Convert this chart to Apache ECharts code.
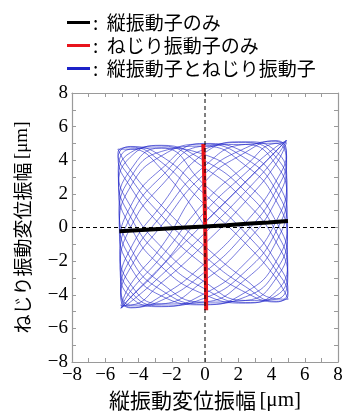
<!DOCTYPE html>
<html>
<head>
<meta charset="utf-8">
<script src="https://cdn.jsdelivr.net/npm/echarts@6/dist/echarts.min.js"></script>
<style>
  html, body { margin: 0; padding: 0; background: #fff; }
  #chart { width: 343px; height: 413px; }
</style>
</head>
<body>
<div id="chart"></div>
<script>
// Series names (legend order)
const seriesNames = ['縦振動子のみ', 'ねじり振動子のみ', '縦振動子とねじり振動子'];

// Axis titles
const xTitle = '縦振動変位振幅';
const yTitle = 'ねじり振動変位振幅';
const unitText = '[μm]';

// Axis range and tick labels
const axisMin = -8;
const axisMax = 8;
const tickLabels = [-8, -6, -4, -2, 0, 2, 4, 6, 8];

// Longitudinal vibrator only: nearly horizontal trace [x, y] in µm
const longitudinalOnly = [
  [-5.15, -0.22], [-3.8, -0.15], [-2.5, -0.08], [-1.2, 0.00], [0.0, 0.06],
  [1.3, 0.13], [2.5, 0.22], [3.8, 0.30], [4.99, 0.38]
];

// Torsional vibrator only: nearly vertical trace [x, y] in µm
const torsionalOnly = [
  [0.07, -4.92], [0.06, -3.5], [0.04, -2.0], [0.02, -0.5], [0.0, 0.6],
  [-0.03, 2.0], [-0.06, 3.5], [-0.10, 4.97]
];

// Both vibrators driven: measured orbit [x, y] in µm
const bothTrace = [
  [-0.10, 0.20], [2.43, 2.70], [4.27, 4.53], [4.90, 5.20], [4.25, 4.53], [2.41, 2.70],
  [-0.12, 0.20], [-2.63, -2.31], [-4.47, -4.14], [-5.05, -4.81], [-4.45, -4.14], [-2.61, -2.31],
  [-0.10, 0.83], [2.42, 3.22], [4.28, 4.80], [4.90, 5.16], [4.26, 4.18], [2.44, 2.14],
  [-0.11, -0.43], [-2.62, -2.83], [-4.46, -4.41], [-5.05, -4.77], [-4.48, -3.79], [-2.63, -1.75],
  [-0.08, 1.44], [2.45, 3.69], [4.28, 5.01], [4.90, 5.04], [4.26, 3.76], [2.43, 1.54],
  [-0.10, -1.04], [-2.64, -3.30], [-4.48, -4.62], [-5.06, -4.65], [-4.47, -3.37], [-2.63, -1.15],
  [-0.11, 2.60], [2.42, 4.46], [4.27, 5.17], [4.90, 4.56], [4.28, 2.77], [2.44, 0.30],
  [-0.09, -2.20], [-2.62, -4.07], [-4.46, -4.78], [-5.07, -4.17], [-4.48, -2.38], [-2.64, 0.09],
  [-0.10, 3.12], [2.44, 4.73], [4.26, 5.13], [4.91, 4.21], [4.28, 2.21], [2.43, -0.33],
  [-0.10, -2.72], [-2.63, -4.34], [-4.48, -4.74], [-5.07, -3.82], [-4.46, -1.82], [-2.62, 0.72],
  [-0.10, 3.59], [2.43, 4.94], [4.26, 5.01], [4.91, 3.79], [4.27, 1.61], [2.42, -0.94],
  [-0.10, -3.19], [-2.63, -4.55], [-4.47, -4.62], [-5.08, -3.40], [-4.46, -1.22], [-2.62, 1.33],
  [-0.12, 4.36], [2.41, 5.10], [4.27, 4.53], [4.92, 2.80], [4.28, 0.37], [2.44, -2.10],
  [-0.09, -3.96], [-2.63, -4.71], [-4.48, -4.14], [-5.10, -2.41], [-4.47, 0.02], [-2.63, 2.49],
  [-0.10, 4.63], [2.43, 5.06], [4.27, 4.18], [4.93, 2.24], [4.26, -0.26], [2.42, -2.62],
  [-0.11, -4.23], [-2.62, -4.67], [-4.49, -3.79], [-5.11, -1.85], [-4.47, 0.65], [-2.64, 3.01],
  [-0.10, 4.84], [2.43, 4.94], [4.26, 3.76], [4.93, 1.64], [4.27, -0.87], [2.43, -3.09],
  [-0.11, -4.44], [-2.64, -4.55], [-4.49, -3.37], [-5.12, -1.25], [-4.48, 1.26], [-2.63, 3.48],
  [-0.10, 5.00], [2.42, 4.46], [4.28, 2.77], [4.95, 0.40], [4.27, -2.03], [2.42, -3.86],
  [-0.10, -4.60], [-2.62, -4.07], [-4.47, -2.38], [-5.15, -0.01], [-4.49, 2.42], [-2.64, 4.25],
  [-0.11, 4.96], [2.43, 4.11], [4.27, 2.21], [4.95, -0.23], [4.28, -2.55], [2.43, -4.13],
  [-0.09, -4.56], [-2.64, -3.72], [-4.48, -1.82], [-5.16, 0.62], [-4.50, 2.94], [-2.63, 4.52],
  [-0.09, 4.84], [2.43, 3.69], [4.27, 1.61], [4.96, -0.84], [4.28, -3.02], [2.44, -4.34],
  [-0.10, -4.44], [-2.63, -3.30], [-4.48, -1.22], [-5.17, 1.23], [-4.49, 3.41], [-2.63, 4.73],
  [-0.11, 4.36], [2.42, 2.70], [4.27, 0.37], [4.97, -2.00], [4.29, -3.79], [2.43, -4.50],
  [-0.10, -3.96], [-2.64, -2.31], [-4.47, 0.02], [-5.20, 2.39], [-4.50, 4.18], [-2.64, 4.89],
  [-0.10, 4.01], [2.44, 2.14], [4.28, -0.26], [4.98, -2.52], [4.28, -4.06], [2.42, -4.46],
  [-0.09, -3.61], [-2.63, -1.75], [-4.49, 0.65], [-5.21, 2.91], [-4.49, 4.45], [-2.63, 4.85],
  [-0.10, 3.59], [2.43, 1.54], [4.28, -0.87], [4.98, -2.99], [4.28, -4.27], [2.42, -4.34],
  [-0.09, -3.19], [-2.63, -1.15], [-4.48, 1.26], [-5.22, 3.38], [-4.50, 4.66], [-2.62, 4.73],
  [-0.10, 2.60], [2.44, 0.30], [4.27, -2.03], [4.99, -3.76], [4.29, -4.43], [2.43, -3.86],
  [-0.11, -2.20], [-2.63, 0.09], [-4.49, 2.42], [-5.23, 4.15], [-4.50, 4.82], [-2.63, 4.25],
  [-0.09, 2.04], [2.43, -0.33], [4.28, -2.55], [4.99, -4.03], [4.28, -4.39], [2.42, -3.51],
  [-0.10, -1.64], [-2.62, 0.72], [-4.48, 2.94], [-5.24, 4.42], [-4.49, 4.78], [-2.64, 3.90],
  [-0.10, 1.44], [2.43, -0.94], [4.28, -3.02], [5.00, -4.27], [4.29, -4.24], [2.42, -3.09],
  [-0.10, -1.04], [-2.64, 1.33], [-4.49, 3.41], [-5.24, 4.66], [-4.49, 4.66], [-2.63, 3.48],
  [-0.10, 0.20]
];

// Zero reference lines
const zeroLineV = [[0, axisMin], [0, axisMax]];
const zeroLineH = [[axisMin, 0], [axisMax, 0]];

const frameColor = '#9a9a9a';
const serif = '"Liberation Serif", "DejaVu Serif", serif';
const cjk = '"Noto Sans CJK JP", "Noto Sans", sans-serif';

function fmtTick(v) {
  return v < 0 ? '\u2212' + (-v) : String(v);
}

function makeAxis(position, showLabels, extra) {
  return Object.assign({
    type: 'value',
    position: position,
    min: axisMin,
    max: axisMax,
    interval: 2,
    axisLine: { show: true, onZero: false, lineStyle: { color: frameColor, width: 1.2 } },
    axisTick: { show: true, inside: true, length: 4, lineStyle: { color: frameColor, width: 1 } },
    minorTick: { show: true, splitNumber: 2, length: 4, lineStyle: { color: frameColor, width: 1 } },
    splitLine: { show: false },
    minorSplitLine: { show: false },
    axisLabel: {
      show: showLabels,
      color: '#000',
      fontFamily: serif,
      fontSize: 19,
      margin: 4,
      formatter: function (v) { return tickLabels.indexOf(v) >= 0 ? fmtTick(v) : ''; }
    }
  }, extra || {});
}

function titleRich(size) {
  return {
    j: { fontFamily: cjk, fontSize: size, color: '#000' },
    u: { fontFamily: serif, fontSize: size, color: '#000' }
  };
}

const chart = echarts.init(document.getElementById('chart'), null, { renderer: 'canvas' });

chart.setOption({
  animation: false,
  backgroundColor: '#fff',
  grid: { left: 72, top: 93, width: 266, height: 269, containLabel: false, outerBoundsMode: 'none' },
  legend: {
    data: seriesNames,
    orient: 'vertical',
    left: 62,
    top: 6,
    icon: 'rect',
    itemWidth: 23,
    itemHeight: 3,
    itemGap: 0,
    selectedMode: false,
    formatter: function (name) { return ':  ' + name; },
    textStyle: { fontFamily: cjk, fontSize: 19, color: '#000', lineHeight: 23, padding: [0, 0, 0, -2] }
  },
  xAxis: [
    makeAxis('bottom', true, {
      name: '{j|' + xTitle + '} {u|' + unitText + '}',
      nameLocation: 'middle',
      nameGap: 28,
      nameTextStyle: { rich: titleRich(21) }
    }),
    makeAxis('top', false)
  ],
  yAxis: [
    makeAxis('left', true, {
      name: '{j|' + yTitle + '} {u|' + unitText + '}',
      nameLocation: 'middle',
      nameGap: 40,
      nameTextStyle: { rich: titleRich(19) }
    }),
    makeAxis('right', false)
  ],
  series: [
    {
      name: seriesNames[2],
      type: 'line',
      data: bothTrace,
      smooth: 0.5,
      symbol: 'none',
      color: '#1c22c8',
      lineStyle: { color: '#1c22c8', width: 0.75, opacity: 0.8 },
      z: 2
    },
    {
      name: seriesNames[1],
      type: 'line',
      data: torsionalOnly,
      symbol: 'none',
      color: '#e8141c',
      lineStyle: { color: '#e8141c', width: 4 },
      z: 3
    },
    {
      name: seriesNames[0],
      type: 'line',
      data: longitudinalOnly,
      symbol: 'none',
      color: '#000',
      lineStyle: { color: '#000', width: 4 },
      z: 4
    },
    {
      type: 'line',
      data: zeroLineV,
      symbol: 'none',
      silent: true,
      lineStyle: { color: '#000', width: 1, type: [4, 3] },
      z: 5
    },
    {
      type: 'line',
      data: zeroLineH,
      symbol: 'none',
      silent: true,
      lineStyle: { color: '#000', width: 1, type: [4, 3] },
      z: 5
    }
  ]
});
</script>
</body>
</html>
